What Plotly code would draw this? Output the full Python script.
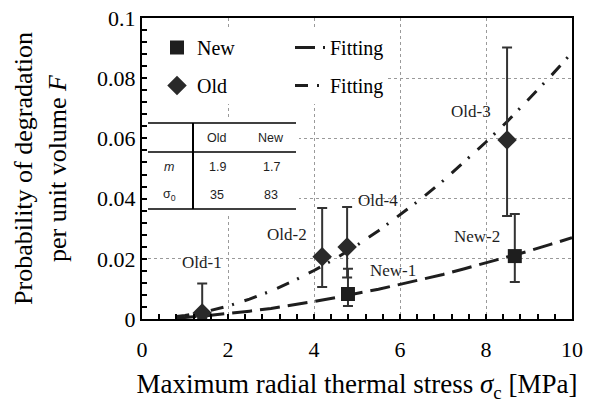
import plotly.graph_objects as go

# ---------------- data ----------------
new_labels = ["New-1", "New-2"]
new_x = [4.79, 8.67]
new_y = [0.0083, 0.0209]
new_hi = [0.0167, 0.0349]
new_lo = [0.0043, 0.0123]

old_labels = ["Old-1", "Old-2", "Old-3", "Old-4"]
old_x = [1.40, 4.19, 8.49, 4.77]
old_y = [0.0020, 0.0207, 0.0595, 0.0239]
old_hi = [0.0118, 0.0369, 0.0902, 0.0372]
old_lo = [0.0000, 0.0106, 0.0342, 0.0138]

fit_x = [0.8, 1, 1.5, 2, 2.5, 3, 3.5, 4, 4.5, 5, 5.5, 6, 6.5, 7, 7.5, 8, 8.5, 9, 9.5, 10]
old_fit = [0.0008, 0.0012, 0.0025, 0.0043, 0.0066, 0.0093, 0.0125, 0.0161, 0.0201, 0.0245,
           0.0293, 0.0345, 0.0400, 0.0459, 0.0522, 0.0588, 0.0657, 0.0730, 0.0806, 0.0885]
new_fit = [0.0004, 0.0005, 0.0011, 0.0018, 0.0026, 0.0035, 0.0046, 0.0058, 0.0071, 0.0084,
           0.0099, 0.0115, 0.0131, 0.0148, 0.0167, 0.0186, 0.0206, 0.0226, 0.0248, 0.0270]

table_cols = ["Old", "New"]
table_rows = ["<i>m</i>", "σ<sub>0</sub>"]
table_m = ["1.9", "1.7"]
table_s0 = ["35", "83"]

# ---------------- layout helpers (pixel -> paper / data) ----------------
W, H = 593, 403
L, R, T, B = 142, 21, 18, 84
PW, PH = W - L - R, H - T - B
X_RANGE = [0, 10]
Y_RANGE = [0, 0.1]


def px(xp):
    return (xp - L) / PW


def py(yp):
    return (H - B - yp) / PH


def dx_(xp):  # pixel -> x data (for background panels only)
    return X_RANGE[0] + px(xp) * (X_RANGE[1] - X_RANGE[0])


def dy_(yp):
    return Y_RANGE[0] + py(yp) * (Y_RANGE[1] - Y_RANGE[0])


SERIF = "Liberation Serif, Times New Roman, serif"
SANS = "Liberation Sans, Arial, sans-serif"
INK = "#1e1e1e"

fig = go.Figure()

# fitting curves
fig.add_trace(go.Scatter(x=fit_x, y=new_fit, mode="lines", name="Fitting",
                         line=dict(color=INK, width=3, dash="20px,8px"),
                         legend="legend2", legendgroup="f1", showlegend=True))
fig.add_trace(go.Scatter(x=fit_x, y=old_fit, mode="lines", name="Fitting",
                         line=dict(color=INK, width=3, dash="13px,9px,2px,11px"),
                         legend="legend2", legendgroup="f2", showlegend=True))

# data points
fig.add_trace(go.Scatter(
    x=new_x, y=new_y, mode="markers", name="New",
    marker=dict(symbol="square", size=14, color=INK),
    error_y=dict(type="data", symmetric=False,
                 array=[h - v for h, v in zip(new_hi, new_y)],
                 arrayminus=[v - l for l, v in zip(new_lo, new_y)],
                 color="#333", thickness=2, width=5),
    legend="legend", legendgroup="p1"))
fig.add_trace(go.Scatter(
    x=old_x, y=old_y, mode="markers", name="Old",
    marker=dict(symbol="diamond", size=15, color="#2a2a2a"),
    error_y=dict(type="data", symmetric=False,
                 array=[h - v for h, v in zip(old_hi, old_y)],
                 arrayminus=[v - l for l, v in zip(old_lo, old_y)],
                 color="#333", thickness=2, width=5),
    legend="legend", legendgroup="p2"))

# point labels: (anchor, xshift, yshift) relative to each point
label_style = {
    "Old-1": ("center", 0, 50),
    "Old-2": ("right", -13, 22),
    "Old-3": ("right", -14, 28),
    "Old-4": ("left", 9, 47),
    "New-1": ("left", 20, 24),
    "New-2": ("right", -13, 20),
}
for labs, xs, ys in ((old_labels, old_x, old_y), (new_labels, new_x, new_y)):
    for lab, xv, yv in zip(labs, xs, ys):
        anc, ddx, ddy = label_style[lab]
        fig.add_annotation(x=xv, y=yv, text=lab, showarrow=False,
                           xanchor=anc, yanchor="middle", xshift=ddx, yshift=ddy,
                           font=dict(family=SERIF, size=17, color=INK))

# ---------------- inset table + white backgrounds ----------------
tx0, tx1 = 148, 296
ty_top, ty_mid, ty_bot = 123, 152, 209
tvx = 193
shapes = [
    # white panel behind the legend
    dict(type="rect", xref="x", yref="y", x0=dx_(143), x1=dx_(388),
         y0=dy_(104), y1=dy_(27), fillcolor="white", line=dict(width=0), layer="between"),
    # white panel behind the table
    dict(type="rect", xref="x", yref="y", x0=dx_(143), x1=dx_(tx1 + 3),
         y0=dy_(ty_bot + 5), y1=dy_(ty_top - 6), fillcolor="white", line=dict(width=0),
         layer="between"),
]
for yy in (ty_top, ty_mid, ty_bot):
    shapes.append(dict(type="line", xref="paper", yref="paper", x0=px(tx0), x1=px(tx1),
                       y0=py(yy), y1=py(yy), line=dict(color="black", width=1.5)))
shapes.append(dict(type="line", xref="paper", yref="paper", x0=px(tvx), x1=px(tvx),
                   y0=py(ty_top), y1=py(ty_bot), line=dict(color="black", width=2)))
fig.update_layout(shapes=shapes)

col_x = [217, 271]
row_y = [167, 195]
tfont = dict(family=SANS, size=12.5, color=INK)
for cx, c in zip(col_x, table_cols):
    fig.add_annotation(xref="paper", yref="paper", x=px(cx), y=py(138), text=c,
                       showarrow=False, xanchor="center", yanchor="middle", font=tfont)
for ry, rlab, vals in zip(row_y, table_rows, (table_m, table_s0)):
    fig.add_annotation(xref="paper", yref="paper", x=px(169), y=py(ry), text=rlab,
                       showarrow=False, xanchor="center", yanchor="middle", font=tfont)
    for cx, v in zip(col_x, vals):
        fig.add_annotation(xref="paper", yref="paper", x=px(cx), y=py(ry), text=v,
                           showarrow=False, xanchor="center", yanchor="middle", font=tfont)

# ---------------- axes ----------------
axis_common = dict(showline=True, linecolor="black", linewidth=2, mirror=True,
                   ticks="inside", ticklen=5, tickwidth=1.5, tickcolor="black",
                   showgrid=True, gridcolor="#9a9a9a", griddash="dot", gridwidth=1,
                   zeroline=False, tickfont=dict(family=SERIF, size=22, color="black"))
fig.update_xaxes(range=X_RANGE, dtick=2, tick0=0, ticklabelstandoff=10,
                 minor=dict(ticks="inside", dtick=0.4, ticklen=5, tickcolor="black",
                            showgrid=False),
                 title=dict(text="Maximum radial thermal stress <i>σ</i><sub>c</sub> [MPa]",
                            font=dict(family=SERIF, size=27, color="black"), standoff=14),
                 **axis_common)
fig.update_yaxes(range=Y_RANGE, dtick=0.02, tick0=0,
                 minor=dict(ticks="inside", dtick=0.004, ticklen=5, tickcolor="black",
                            showgrid=False),
                 title=dict(text="Probability of degradation<br>per unit volume <i>F</i>",
                            font=dict(family=SERIF, size=26, color="black"), standoff=23),
                 **axis_common)

fig.update_layout(
    width=W, height=H,
    margin=dict(l=L, r=R, t=T, b=B, autoexpand=False),
    plot_bgcolor="white", paper_bgcolor="white",
    legend=dict(x=px(157), y=py(28), xanchor="left", yanchor="top",
                bgcolor="rgba(0,0,0,0)", font=dict(family=SERIF, size=20, color="black"),
                tracegroupgap=9, itemsizing="trace"),
    legend2=dict(x=px(290), y=py(28), xanchor="left", yanchor="top",
                 bgcolor="rgba(0,0,0,0)", font=dict(family=SERIF, size=20, color="black"),
                 tracegroupgap=9),
)

fig.write_html("out.html")
